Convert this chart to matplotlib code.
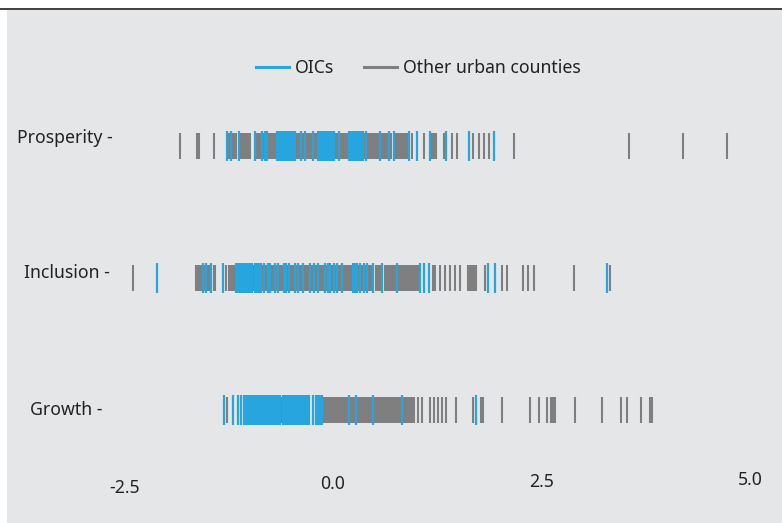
import matplotlib
matplotlib.use("Agg")
import matplotlib.pyplot as plt
from matplotlib.lines import Line2D
import matplotlib.transforms as mtransforms

plt.rcParams['font.family'] = ['Noto Sans', 'DejaVu Sans']

categories = ["Growth", "Inclusion", "Prosperity"]
series_names = ["OICs", "Other urban counties"]
tick_values = [-2.5, 0.0, 2.5, 5.0]
tick_labels = ["-2.5", "0.0", "2.5", "5.0"]

prosperity_oic = [-1.27, -1.22, -1.13, -0.93, -0.85, -0.81, -0.79,
                  -0.67, -0.65, -0.62, -0.60, -0.57, -0.55, -0.53, -0.50, -0.48, -0.46,
                  -0.38, -0.34, -0.24,
                  -0.18, -0.16, -0.13, -0.11, -0.08, -0.06, -0.04, -0.01, 0.01,
                  0.07, 0.19, 0.22, 0.24, 0.26, 0.29, 0.31, 0.34, 0.36,
                  0.40, 0.56, 0.67, 0.73, 0.91, 1.01, 1.16, 1.35, 1.63, 1.93]
prosperity_other = [-1.83, -1.63, -1.60, -1.43, -1.26, -1.24, -1.20, -1.18, -1.16,
                    -1.11, -1.09, -1.07, -1.04, -1.02, -0.99, -0.92, -0.90, -0.87,
                    -0.83, -0.78, -0.77, -0.75, -0.73, -0.71, -0.68, -0.45, -0.44,
                    -0.42, -0.40, -0.36, -0.33, -0.31, -0.29, -0.26, -0.22, -0.20,
                    0.04, 0.06, 0.09, 0.10, 0.12, 0.14, 0.17, 0.38, 0.42, 0.44,
                    0.47, 0.49, 0.51, 0.54, 0.58, 0.60, 0.62, 0.65, 0.70, 0.75,
                    0.78, 0.80, 0.83, 0.85, 0.87, 0.89, 0.95, 1.09, 1.19, 1.21,
                    1.23, 1.33, 1.43, 1.49, 1.68, 1.75, 1.81, 1.87, 2.17, 3.54,
                    4.19, 4.72]

inclusion_oic = [-2.11, -1.56, -1.52, -1.46, -1.32, -1.16, -1.14, -1.11, -1.09,
                 -1.07, -1.04, -1.02, -0.99, -0.97, -0.93, -0.91, -0.89, -0.86,
                 -0.83, -0.78, -0.75, -0.69, -0.66, -0.59, -0.56, -0.53, -0.46,
                 -0.42, -0.36, -0.28, -0.23, -0.18, -0.10, -0.06, -0.04, 0.01,
                 0.05, 0.11, 0.24, 0.26, 0.29, 0.32, 0.37, 0.41, 0.48, 0.59,
                 0.77, 1.04, 1.09, 1.15, 1.86, 1.94, 3.28]
inclusion_other = [-2.40, -1.64, -1.62, -1.59, -1.57, -1.54, -1.50, -1.48, -1.43,
                   -1.41, -1.28, -1.25, -1.22, -1.20, -1.17, -1.12, -1.05, -1.00,
                   -0.95, -0.92, -0.87, -0.84, -0.80, -0.77, -0.73, -0.71, -0.68,
                   -0.63, -0.61, -0.58, -0.55, -0.51, -0.50, -0.48, -0.44, -0.40,
                   -0.38, -0.34, -0.32, -0.30, -0.27, -0.25, -0.21, -0.20, -0.16,
                   -0.13, -0.12, -0.08, -0.02, -0.01, 0.03, 0.07, 0.09, 0.13,
                   0.16, 0.18, 0.20, 0.22, 0.28, 0.31, 0.35, 0.39, 0.43, 0.46,
                   0.51, 0.54, 0.56, 0.58, 0.62, 0.65, 0.67, 0.69, 0.72, 0.74,
                   0.79, 0.80, 0.83, 0.85, 0.87, 0.90, 0.92, 0.95, 0.97, 0.99,
                   1.02, 1.20, 1.22, 1.28, 1.34, 1.40, 1.46, 1.52, 1.62, 1.64,
                   1.66, 1.69, 1.71, 1.82, 2.02, 2.08, 2.28, 2.34, 2.41, 2.89,
                   3.32]

growth_oic = [-1.31, -1.20, -1.14, -1.10, -1.07, -1.04, -1.02, -0.99, -0.97,
              -0.95, -0.92, -0.90, -0.87, -0.85, -0.83, -0.80, -0.78, -0.75,
              -0.73, -0.71, -0.68, -0.66, -0.63, -0.60, -0.57, -0.55, -0.53,
              -0.50, -0.48, -0.46, -0.43, -0.41, -0.38, -0.36, -0.34, -0.31,
              -0.29, -0.24, -0.20, -0.18, -0.16, -0.13, 0.19, 0.28, 0.48,
              0.83, 1.71]
growth_other = [-1.27, -0.62, -0.11, -0.08, -0.06, -0.04, -0.01, 0.01, 0.04,
                0.06, 0.08, 0.11, 0.13, 0.16, 0.18, 0.20, 0.23, 0.25, 0.28,
                0.30, 0.32, 0.35, 0.37, 0.40, 0.42, 0.44, 0.47, 0.49, 0.51,
                0.54, 0.56, 0.59, 0.61, 0.63, 0.66, 0.68, 0.71, 0.73, 0.75,
                0.77, 0.79, 0.81, 0.85, 0.87, 0.90, 0.92, 0.95, 0.97, 1.02,
                1.07, 1.16, 1.21, 1.26, 1.31, 1.35, 1.47, 1.68, 1.77, 1.80,
                2.02, 2.36, 2.47, 2.56, 2.61, 2.63, 2.66, 2.90, 3.22, 3.45,
                3.52, 3.69, 3.80, 3.82]

oic_data = [growth_oic, inclusion_oic, prosperity_oic]
other_data = [growth_other, inclusion_other, prosperity_other]

BLUE = "#27a5de"
GREY = "#7f7f7f"
BG = "#e5e6e7"

W, H = 782, 523
fig = plt.figure(figsize=(W / 100, H / 100), dpi=100)
fig.patch.set_facecolor("white")
ax = fig.add_axes([7 / W, 0, 1 - 7 / W, 513 / H])
ax.set_facecolor(BG)
for s in ax.spines.values():
    s.set_visible(False)
ax.set_xticks([])
ax.set_yticks([])
ax.set_xlim((7 - 333) / 83.5, (782 - 333) / 83.5)
ax.set_ylim((410 - 523) / 132, (410 - 10) / 132)

for i, (o, b) in enumerate(zip(other_data, oic_data)):
    ax.vlines(o, i - 0.095, i + 0.095, color=GREY, lw=1.5)
    ax.vlines(b, i - 0.114, i + 0.114, color=BLUE, lw=1.6)

# top rule
fig.add_artist(Line2D([0, 1], [1 - 8.5 / H] * 2, color="#404040", lw=1.4))

# x tick labels
fs = 12.7
tick_y = [488, 484, 482, 480]
for v, lab, yp in zip(tick_values, tick_labels, tick_y):
    tr = mtransforms.blended_transform_factory(ax.transData, fig.transFigure)
    ax.text(v, 1 - yp / H, lab, transform=tr, ha="center", va="center",
            fontsize=fs, color="#222222")

# category labels
cat_pos = {"Prosperity": (113, 138), "Inclusion": (110, 273), "Growth": (103, 410)}
for c in categories:
    xp, yp = cat_pos[c]
    fig.text(xp / W, 1 - yp / H, c + " -", ha="right", va="center",
             fontsize=fs, color="#222222")

handles = [Line2D([], [], color=BLUE, lw=2.2), Line2D([], [], color=GREY, lw=2.2)]
fig.legend(handles, series_names, loc="center", bbox_to_anchor=(418 / W, 1 - 68 / H),
           ncol=2, frameon=False, fontsize=fs, handlelength=1.9,
           handletextpad=0.3, columnspacing=1.7, labelcolor="#222222")

fig.savefig("out.png", dpi=100, facecolor=fig.get_facecolor())
